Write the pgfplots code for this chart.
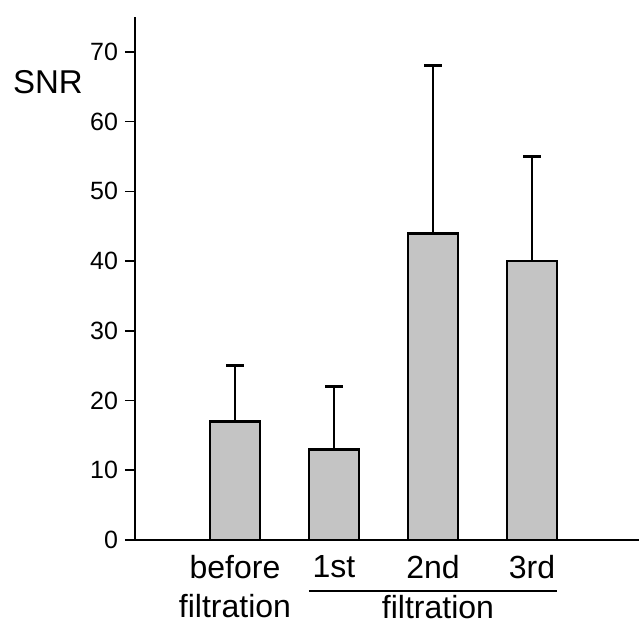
\documentclass[border=0pt]{standalone}
\usepackage{fontspec}
\setmainfont{Liberation Sans}
\usepackage{pgfplots}
\pgfplotsset{compat=1.18}
\definecolor{barfill}{HTML}{C4C4C4}

\begin{document}
\begin{tikzpicture}
\begin{axis}[
  scale only axis, width=252pt, height=261.5pt,
  xmin=-0.01, xmax=5.08, ymin=0, ymax=75,
  axis x line=bottom, axis y line=left,
  axis line style={-, line width=1pt},
  ybar, bar width=25pt,
  xtick=data,
  xticklabels={before\\filtration,1st,2nd,3rd},
  xticklabel style={font=\fontsize{16}{19.5}\selectfont, align=center, yshift=1pt},
  xtick style={draw=none},
  ytick={0,10,...,70},
  yticklabel style={font=\fontsize{12.5}{15}\selectfont},
  ytick style={line width=0.8pt, black},
  tick align=outside, major tick length=5pt,
  /pgf/number format/assume math mode=true,
  clip=false,
]
\addplot[fill=barfill, draw=black, line width=1.4pt,
  error bars/.cd, y dir=plus, y explicit,
  error bar style={line width=1.4pt, black},
  error mark options={rotate=90, mark size=4.5pt, line width=1.4pt, black}]
  coordinates {
  (1,17) +- (0,8)
  (2,13) +- (0,9)
  (3,44) +- (0,24)
  (4,40) +- (0,15)
};
\draw[line width=0.8pt, yshift=-25.5pt] (axis cs:1.747,0) -- (axis cs:4.253,0);
\node[font=\fontsize{16}{20}\selectfont, anchor=base] at ([yshift=-39pt]axis cs:3.05,0) {filtration};
\end{axis}
\node[anchor=base west, font=\fontsize{16.5}{20}\selectfont] at (-64.5pt,223.5pt) {SNR};
\pgfresetboundingbox
\useasboundingbox (-67.5pt,-41.5pt) rectangle (252pt,270pt);
\end{tikzpicture}
\end{document}
